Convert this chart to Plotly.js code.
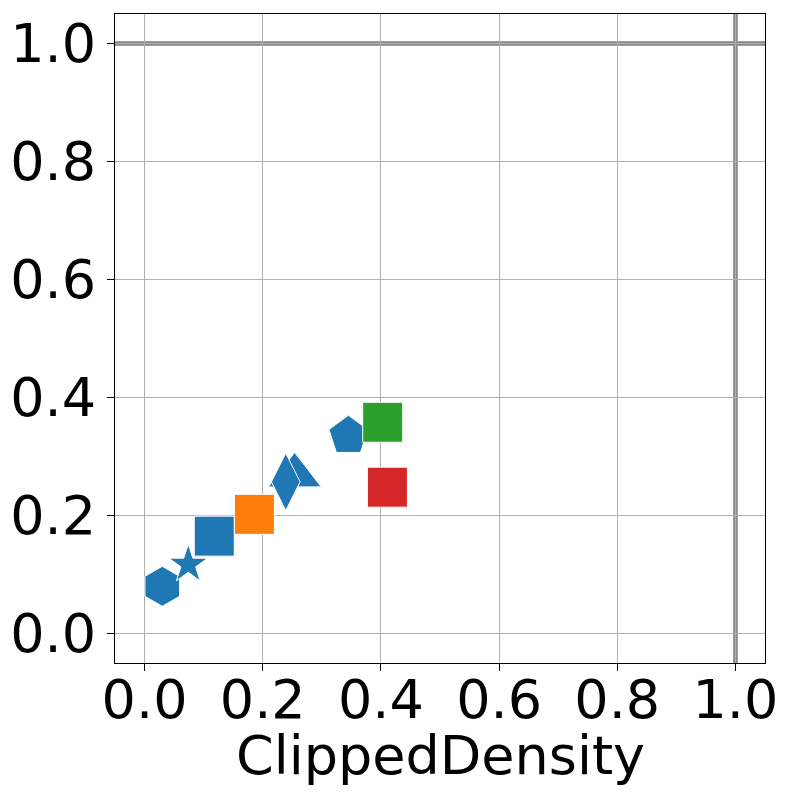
<!DOCTYPE html>
<html>
<head>
<meta charset="utf-8">
<script src="https://cdn.plot.ly/plotly-3.0.1.min.js"></script>
<style>
  body { margin: 0; background: #fff; }
  #chart { width: 792px; height: 805px; }
</style>
</head>
<body>
<div id="chart"></div>
<script>
// values (later points are drawn on top)
var blueX = [0.030, 0.074, 0.118, 0.254, 0.239, 0.345];
var blueY = [0.080, 0.117, 0.165, 0.268, 0.257, 0.335];
var blueSymbols = ['hexagon', 'star', 'square', 'triangle-up', 'diamond-tall', 'pentagon'];
var blueSizes = [40, 29, 40, 46, 41, 41];

var orangeX = [0.186];
var orangeY = [0.202];
var greenX = [0.403];
var greenY = [0.358];
var redX = [0.411];
var redY = [0.248];

var refValue = 1.0;
var tickValues = [0, 0.2, 0.4, 0.6, 0.8, 1.0];
var xLabel = 'ClippedDensity';

var fontFamily = 'DejaVu Sans, sans-serif';

function pointTrace(x, y, color, symbol, size) {
    return {
        x: x,
        y: y,
        mode: 'markers',
        type: 'scatter',
        marker: {
            color: color,
            symbol: symbol,
            size: size,
            opacity: 1,
            line: { color: '#ffffff', width: 1 }
        },
        showlegend: false,
        hoverinfo: 'x+y'
    };
}

var data = [
    pointTrace(blueX, blueY, '#1f77b4', blueSymbols, blueSizes),
    pointTrace(orangeX, orangeY, '#ff7f0e', 'square', 40),
    pointTrace(greenX, greenY, '#2ca02c', 'square', 40),
    pointTrace(redX, redY, '#d62728', 'square', 40)
];

var axisStyle = {
    range: [-0.05, 1.05],
    tickvals: tickValues,
    tickformat: '.1f',
    showgrid: true,
    gridcolor: '#b0b0b0',
    gridwidth: 1.2,
    zeroline: false,
    showline: true,
    mirror: true,
    linecolor: '#000000',
    linewidth: 1.3,
    ticks: 'outside',
    ticklen: 7,
    tickwidth: 1.3,
    tickcolor: '#000000',
    tickfont: { family: fontFamily, size: 54, color: '#000000' }
};

var xaxis = Object.assign({}, axisStyle, { ticklabelstandoff: -18 });
var yaxis = Object.assign({}, axisStyle);

// thick grey reference lines at 1.0
function refLine(x0, y0, x1, y1, xref, yref, color, width) {
    return { type: 'line', xref: xref, yref: yref, x0: x0, y0: y0, x1: x1, y1: y1,
             line: { color: color, width: width }, layer: 'below' };
}

var layout = {
    width: 792,
    height: 805,
    margin: { l: 115, r: 27, t: 14, b: 142 },
    paper_bgcolor: '#ffffff',
    plot_bgcolor: '#ffffff',
    font: { family: fontFamily, color: '#000000' },
    xaxis: xaxis,
    yaxis: yaxis,
    shapes: [
        refLine(refValue, 0, refValue, 1, 'x', 'paper', '#a0a0a0', 5),
        refLine(refValue, 0, refValue, 1, 'x', 'paper', '#808080', 2.5),
        refLine(0, refValue, 1, refValue, 'paper', 'y', '#a0a0a0', 5),
        refLine(0, refValue, 1, refValue, 'paper', 'y', '#808080', 2.5)
    ],
    // x axis label placed as an annotation so it sits where the reference has it
    annotations: [{
        text: xLabel,
        xref: 'paper', yref: 'paper',
        x: 0.5, y: -0.142,
        xanchor: 'center', yanchor: 'middle',
        showarrow: false,
        font: { family: fontFamily, size: 54, color: '#000000' }
    }]
};

Plotly.newPlot('chart', data, layout, { displayModeBar: false });
</script>
</body>
</html>
